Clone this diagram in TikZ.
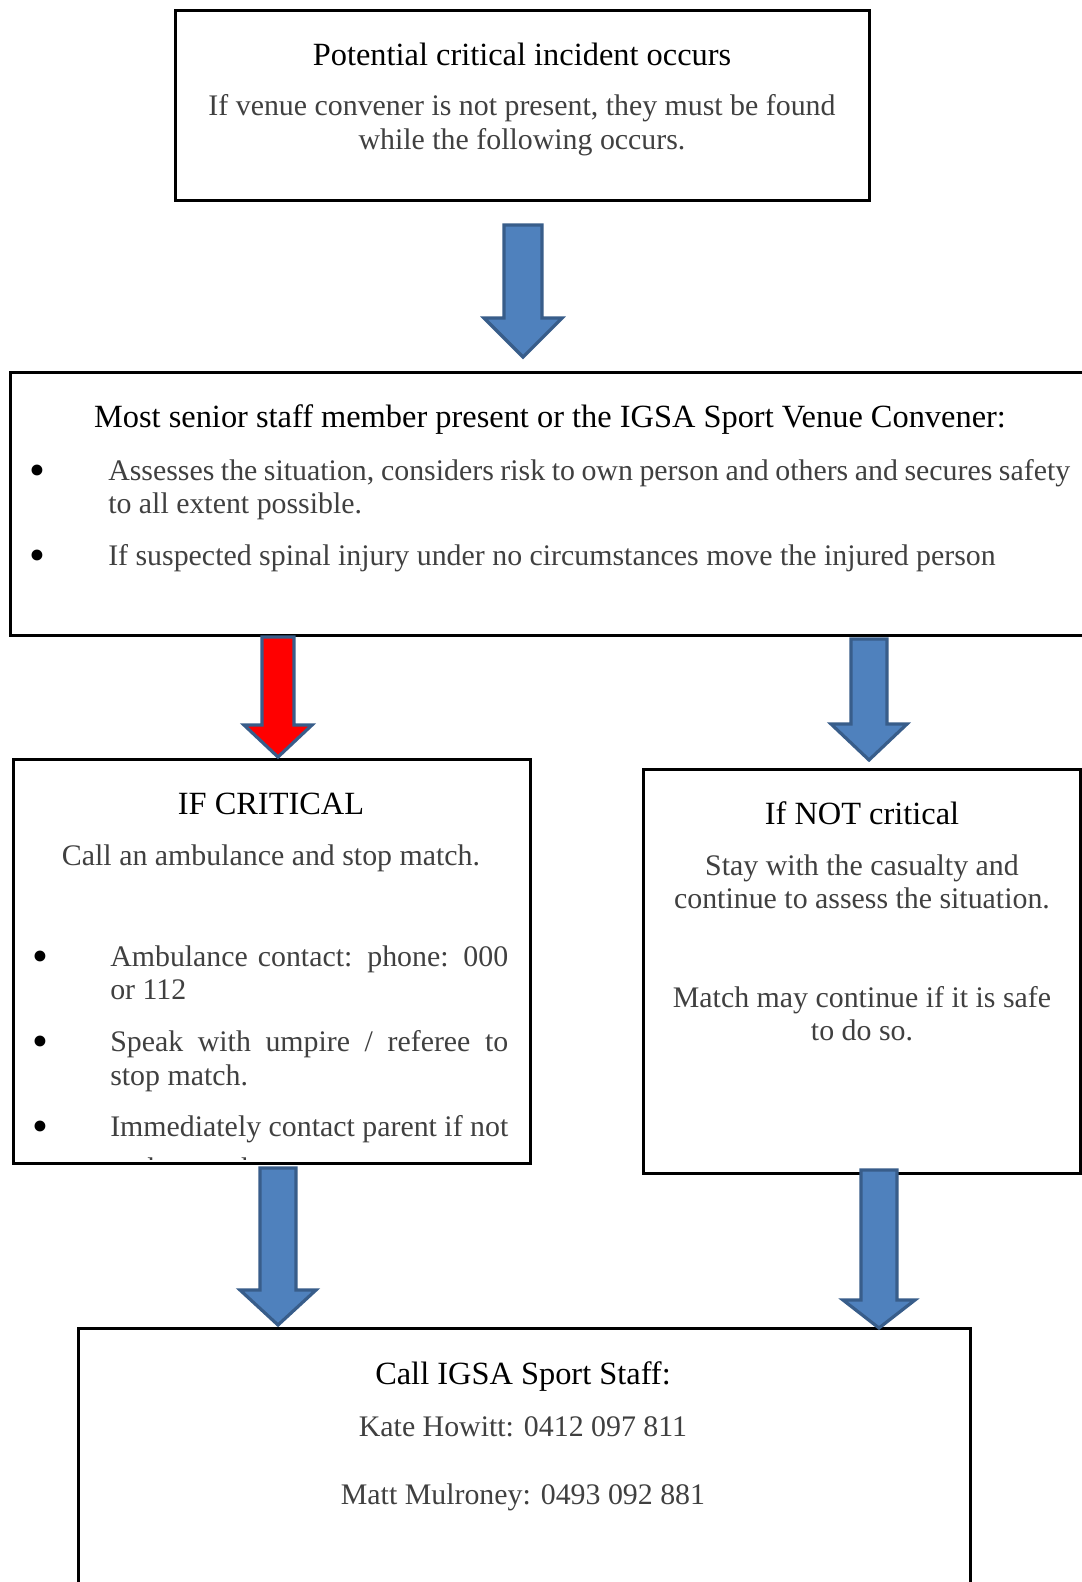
\documentclass[tikz,border=0pt]{standalone}
\usepackage{fontspec}
\setmainfont{Liberation Serif}
\usepackage{xcolor}
\usepackage{tikz}

\definecolor{arrowfill}{HTML}{4F81BD}
\definecolor{arrowedge}{HTML}{385D8A}
\definecolor{bodygray}{HTML}{404040}

% block arrow pointing down: x, y top, y head, y tip, half shaft, half head, fill
\newcommand\blockarrow[7]{%
  \draw[arrowbox,fill=#7]
     ({#1-#5},#2)--({#1+#5},#2)--({#1+#5},#3)--({#1+#6},#3)
     --(#1,#4)--({#1-#6},#3)--({#1-#5},#3)--cycle;}

\begin{document}
\begin{tikzpicture}[x=0.75pt,y=-0.75pt,
     frame/.style={draw=black,line width=2.25pt},
     arrowbox/.style={draw=arrowedge,line width=2.4pt,line join=miter},
     head/.style={font=\fontsize{24.3}{28}\selectfont,text=black,yshift=-3pt,
                  inner sep=0pt,text height=17pt,text depth=6pt},
     body/.style={font=\fontsize{22.4}{26}\selectfont,text=bodygray,yshift=-3pt,
                  inner sep=0pt,text height=15.5pt,text depth=5.5pt},
     dot/.style={body,font=\fontsize{34}{34}\selectfont,text=black,
                 text height=10pt,text depth=0pt,yshift=-3.5pt}
     ]
   \clip (0,0) rectangle (1082,1582);
   \fill[white] (0,0) rectangle (1082,1582);

   % boxes
   \draw[frame] (175,10) rectangle (869,200);
   \draw[frame] (10,372) rectangle (1095,635);
   \draw[frame] (13,759) rectangle (530,1163);
   \draw[frame] (643,769) rectangle (1080,1173);
   \draw[frame] (78,1328) rectangle (970,1600);

   % top box
   \node[head] (incident) at (522,54) {Potential critical incident occurs};
   \node[body] (convener) at (522,105)
      {If venue convener is not present, they must be found};
   \node[body] (following) at (522,139) {while the following occurs.};

   % senior staff box
   \node[head] (senior) at (550,416)
      {Most senior staff member present or the IGSA Sport Venue Convener:};
   \foreach \y in {470,555}
     \node[dot] (dot\y) at (37,\y) {\textbullet};
   \node[body,anchor=west] (assess) at (108,470)
      {\makebox[721.5pt][s]{Assesses the situation, considers risk to own person and others and secures safety}};
   \node[body,anchor=west] (extent) at (108,503) {to all extent possible.};
   \node[body,anchor=west] (spinal) at (108,555)
      {If suspected spinal injury under no circumstances move the injured person};

   % critical box
   \node[head] (critical) at (271,803) {IF CRITICAL};
   \node[body] (ambulance) at (271,855) {Call an ambulance and stop match.};
   \foreach \y in {956,1041,1126}
     \node[dot] (cdot\y) at (40,\y) {\textbullet};
   \foreach \y/\desc in {956/{\makebox[298.5pt][s]{Ambulance contact: phone: 000}},
                         989/{or 112},
                         1041/{\makebox[298.5pt][s]{Speak with umpire / referee to}},
                         1075/{stop match.},
                         1126/{\makebox[298.5pt][s]{Immediately contact parent if not}}}
     \node[body,anchor=west] (cline\y) at (110,\y) {\desc};
   \begin{scope}
     \clip (14,1100) rectangle (529,1159);
     \node[body,anchor=base west] (atmatch) at (110,1174) {at the match.};
   \end{scope}

   % not critical box
   \node[head] (notcritical) at (862,813) {If NOT critical};
   \foreach \y/\desc in {865/{Stay with the casualty and},
                         898/{continue to assess the situation.},
                         997/{Match may continue if it is safe},
                         1030/{to do so.}}
     \node[body] (nline\y) at (862,\y) {\desc};

   % staff box
   \node[head] (staff) at (523,1373) {Call IGSA Sport Staff:};
   \node[body] (kate) at (523,1426) {Kate Howitt: 0412 097 811};
   \node[body] (matt) at (523,1494) {Matt Mulroney: 0493 092 881};

   % arrows
   \blockarrow{523}{225}{318}{357}{19}{39}{arrowfill}
   \blockarrow{278}{637}{725}{757}{16}{34}{red}
   \blockarrow{869}{639}{724}{760}{18}{38}{arrowfill}
   \blockarrow{278}{1168}{1290}{1325}{18}{38}{arrowfill}
   \blockarrow{879}{1170}{1300}{1328}{18}{36}{arrowfill}
\end{tikzpicture}
\end{document}
